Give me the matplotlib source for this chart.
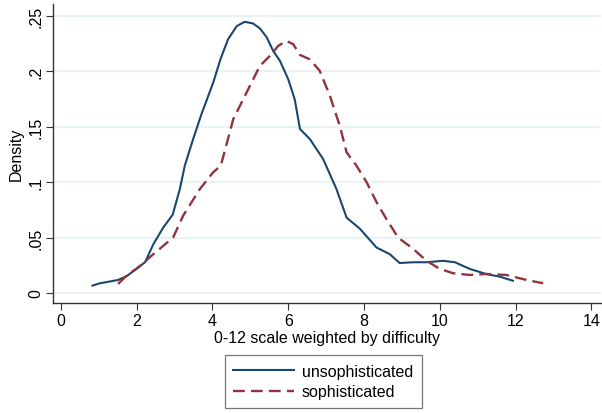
import numpy as np
import matplotlib
matplotlib.use("Agg")
import matplotlib.pyplot as plt

plt.rcParams['font.family'] = ['Liberation Sans', 'DejaVu Sans']

# kernel density, unsophisticated respondents
x_unsoph = [0.83, 1.03, 1.51, 1.73, 2.04, 2.22, 2.44, 2.70, 2.95, 3.14, 3.27, 3.49,
            3.71, 4.02, 4.21, 4.41, 4.64, 4.85, 5.07, 5.25, 5.43, 5.60, 5.78, 6.00,
            6.17, 6.31, 6.57, 6.92, 7.27, 7.54, 7.89, 8.33, 8.68, 8.94, 9.30, 9.65,
            10.09, 10.40, 10.79, 11.23, 11.58, 11.93]
y_unsoph = [0.0066, 0.0087, 0.0117, 0.015, 0.023, 0.0277, 0.044, 0.059, 0.0707, 0.094,
            0.115, 0.139, 0.1615, 0.190, 0.211, 0.229, 0.241, 0.2449, 0.2434, 0.239,
            0.231, 0.2187, 0.2097, 0.193, 0.175, 0.148, 0.139, 0.121, 0.094, 0.068,
            0.058, 0.041, 0.035, 0.027, 0.0277, 0.0277, 0.029, 0.0277, 0.0217, 0.017,
            0.0147, 0.011]

# kernel density, sophisticated respondents
x_soph = [1.51, 1.73, 2.04, 2.44, 2.96, 3.23, 3.67, 4.02, 4.22, 4.55, 4.90, 5.25,
          5.56, 5.73, 5.95, 6.13, 6.31, 6.57, 6.83, 7.10, 7.36, 7.54, 7.80, 8.07,
          8.33, 8.59, 8.90, 9.30, 9.65, 10.0, 10.35, 10.79, 11.23, 11.76, 12.29, 12.73]
y_soph = [0.0081, 0.0156, 0.023, 0.035, 0.050, 0.070, 0.094, 0.109, 0.115, 0.157,
          0.181, 0.205, 0.2157, 0.223, 0.2277, 0.2247, 0.215, 0.211, 0.2007, 0.178,
          0.151, 0.127, 0.115, 0.0999, 0.082, 0.0668, 0.050, 0.0397, 0.029, 0.0217,
          0.0178, 0.0162, 0.0171, 0.0162, 0.0117, 0.0087]

xticks = [0, 2, 4, 6, 8, 10, 12, 14]
yticks = [0, 0.05, 0.1, 0.15, 0.2, 0.25]
ytick_labels = ['0', '.05', '.1', '.15', '.2', '.25']

BLUE = '#1a476f'
RED = '#90353b'
FS = 11.5

fig = plt.figure(figsize=(6.02, 4.14), dpi=100)
ax = fig.add_axes([0.088, 0.266, 0.91, 0.722])

for yt in yticks:
    ax.axhline(yt, color='#eaf2f3', lw=1.6, zorder=0)

ax.plot(x_unsoph, y_unsoph, color=BLUE, lw=1.5, label='unsophisticated')
ax.plot(x_soph, y_soph, color=RED, lw=1.7, dashes=(5, 2.6), label='sophisticated')

ax.set_xlim(-0.21, 14.25)
ax.set_ylim(-0.009, 0.261)
ax.set_xticks(xticks)
ax.set_yticks(yticks)
ax.set_yticklabels(ytick_labels, rotation=90, va='center')
ax.tick_params(labelsize=FS, length=5, color='#333333', pad=2)

for s in ['top', 'right']:
    ax.spines[s].set_visible(False)
for s in ['left', 'bottom']:
    ax.spines[s].set_color('#333333')
    ax.spines[s].set_linewidth(1.0)

ax.set_xlabel('0-12 scale weighted by difficulty', fontsize=FS, labelpad=2)
ax.set_ylabel('Density', fontsize=FS, labelpad=3)

leg = fig.legend(loc='upper center', bbox_to_anchor=(0.537, 0.140), ncol=1,
                 fontsize=FS, handlelength=3.8, fancybox=False, frameon=True,
                 edgecolor='#555555', borderpad=0.55, labelspacing=0.35,
                 handletextpad=0.5, borderaxespad=0)
leg.get_frame().set_linewidth(0.9)

fig.savefig('out.png', dpi=100)
